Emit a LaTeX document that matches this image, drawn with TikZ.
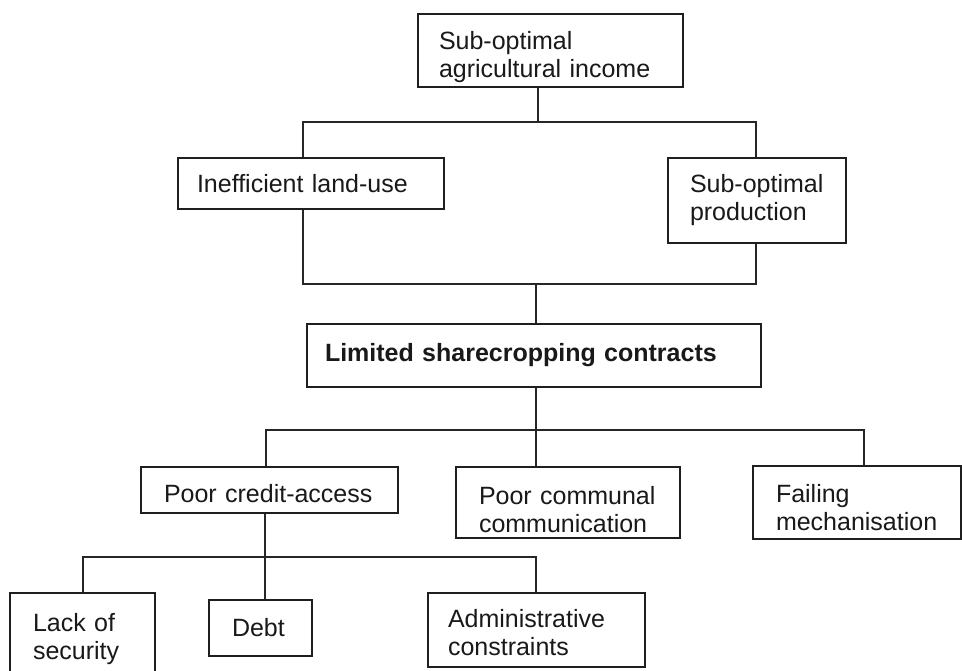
\documentclass[tikz,border=0pt]{standalone}
\usepackage{fontspec}
\setmainfont{Liberation Sans}
\newcommand\fsz{\fontsize{25}{28}\selectfont}
\newcommand\lowr[1]{\rule{0pt}{#1pt}}
\begin{document}
\begin{tikzpicture}[x=1pt,y=-1pt,
  box/.style={draw=black!88, line width=1.2pt, inner ysep=0pt, align=left, font=\fsz, text=black!90},
  conn/.style={draw=black!85, line width=1.1pt}]
\useasboundingbox (0,0) rectangle (962,670);
\clip (0,0) rectangle (962,670);
\fill[white] (0,0) rectangle (962,670);

\node[box, inner xsep=21pt, text width=223pt, minimum height=73pt] (top) at (550.5,50.5) {\lowr{32}Sub-optimal\\agricultural income};
\node[box, inner xsep=19pt, text width=228pt, minimum height=51pt] (ineff) at (311,183.5) {Inefficient land-use};
\node[box, inner xsep=22pt, text width=134pt, minimum height=85pt] (prod) at (757,200.5) {Sub-optimal\\production};
\node[box, inner xsep=18pt, text width=418pt, minimum height=63pt, font=\fsz\bfseries] (lim) at (534,355.5) {Limited sharecropping contracts};
\node[box, inner xsep=23pt, text width=211pt, minimum height=46pt] (credit) at (269.5,490) {\lowr{25}Poor credit-access};
\node[box, inner xsep=23pt, text width=178pt, minimum height=71pt] (comm) at (568,502.5) {\lowr{33}Poor communal\\communication};
\node[box, inner xsep=23pt, text width=162pt, minimum height=73pt] (fail) at (857,502.5) {\lowr{28}Failing\\mechanisation};
\node[box, inner xsep=23pt, text width=99pt, minimum height=93pt] (lack) at (82.5,639.5) {Lack of\\security};
\node[box, inner xsep=23pt, text width=57pt, minimum height=56pt] (debt) at (260.5,628) {Debt};
\node[box, inner xsep=20pt, text width=177pt, minimum height=74pt] (admin) at (536.5,630) {\lowr{24}Administrative\\constraints};

\coordinate (j1) at (538,122);
\coordinate (j1l) at (303,122);
\coordinate (j1r) at (756,122);
\coordinate (j2) at (536,284);
\coordinate (j2l) at (303,284);
\coordinate (j2r) at (756,284);
\coordinate (j3) at (536,430);
\coordinate (j3l) at (266,430);
\coordinate (j3r) at (864,430);
\coordinate (j4) at (265,557);
\coordinate (j4l) at (83,557);
\coordinate (j4r) at (536,557);

\draw[conn] (top.south -| j1) -- (j1);
\draw[conn] (ineff.north -| j1l) -- (j1l) -- (j1r) -- (prod.north -| j1r);
\draw[conn] (ineff.south -| j2l) -- (j2l) -- (j2r) -- (prod.south -| j2r);
\draw[conn] (j2) -- (lim.north -| j2);
\draw[conn] (lim.south -| j3) -- (comm.north -| j3);
\draw[conn] (credit.north -| j3l) -- (j3l) -- (j3r) -- (fail.north -| j3r);
\draw[conn] (credit.south -| j4) -- (debt.north -| j4);
\draw[conn] (lack.north -| j4l) -- (j4l) -- (j4r) -- (admin.north -| j4r);
\end{tikzpicture}
\end{document}
